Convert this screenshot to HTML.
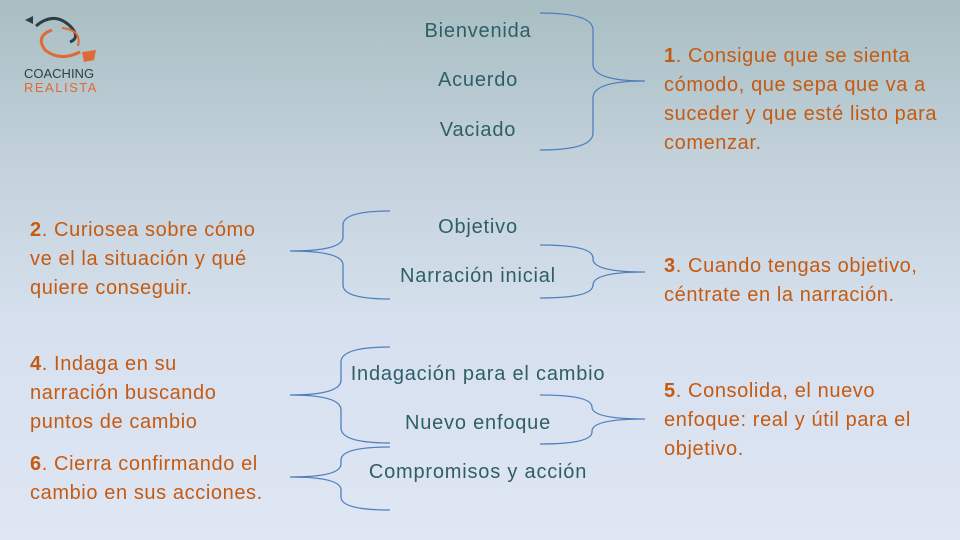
<!DOCTYPE html>
<html><head><meta charset="utf-8"><style>
body{margin:0}
#s{position:relative;width:960px;height:540px;overflow:hidden;background:linear-gradient(180deg,#a8bec2 0%,#c3d1db 30%,#d6e0ee 60%,#dfe6f4 100%);font-family:"Liberation Sans",sans-serif}
.c{position:absolute;color:#2f5f66;font-size:20px;letter-spacing:0.8px;text-align:center;white-space:nowrap;transform:translateX(-50%)}
.o{position:absolute;color:#c55a11;font-size:20px;letter-spacing:0.6px;line-height:29px;white-space:nowrap}
.o b{font-weight:bold}
svg{position:absolute;left:0;top:0}
</style></head><body><div id="s">
<svg width="960" height="540" fill="none" stroke="#4f7fbf" stroke-width="1.3">
<path d="M540,13 Q593,13 593,30 L593,64 Q593,81 645,81 Q593,81 593,98 L593,133 Q593,150 540,150"/>
<path d="M390,211 Q343,211 343,225 L343,237 Q343,251 290,251 Q343,251 343,265 L343,285 Q343,299 390,299"/>
<path d="M540,245 Q593,245 593,258 L593,259 Q593,272 645,272 Q593,272 593,285 L593,285 Q593,298 540,298"/>
<path d="M390,347 Q341,347 341,362 L341,380 Q341,395 290,395 Q341,395 341,410 L341,428 Q341,443 390,443"/>
<path d="M540,395 Q592,395 592,407 L592,407 Q592,419 645,419 Q592,419 592,431 L592,432 Q592,444 540,444"/>
<path d="M390,447 Q341,447 341,460 L341,464 Q341,477 290,477 Q341,477 341,490 L341,497 Q341,510 390,510"/>
</svg>
<svg width="130" height="100" style="left:0;top:0">
<path d="M36,26 Q55,10 72,28 Q80,38 70,42" stroke="#2d3f45" stroke-width="3" fill="none"/>
<path d="M25,20 L33,16 L33,24 Z" fill="#2d3f45"/>
<path d="M52,30 Q35,36 45,50 Q60,62 80,52" stroke="#e06a35" stroke-width="3" fill="none"/>
<path d="M62,28 Q82,30 78,46" stroke="#e06a35" stroke-width="2" fill="none"/>
<path d="M82,52 L96,50 L94,60 L84,62 Z" fill="#e06a35"/>
<text x="24" y="78" font-size="13" fill="#2d3f45" font-family="Liberation Sans">COACHING</text>
<text x="24" y="92" font-size="13" fill="#e06a35" letter-spacing="1.5" font-family="Liberation Sans">REALISTA</text>
</svg>
<div class="c" style="left:478px;top:20px">Bienvenida</div>
<div class="c" style="left:478px;top:69px">Acuerdo</div>
<div class="c" style="left:478px;top:119px">Vaciado</div>
<div class="c" style="left:478px;top:216px">Objetivo</div>
<div class="c" style="left:478px;top:265px">Narración inicial</div>
<div class="c" style="left:478px;top:363px">Indagación para el cambio</div>
<div class="c" style="left:478px;top:412px">Nuevo enfoque</div>
<div class="c" style="left:478px;top:461px">Compromisos y acción</div>
<div class="o" style="left:664px;top:42px"><b>1</b>. Consigue que se sienta<br>cómodo, que sepa que va a<br>suceder y que esté listo para<br>comenzar.</div>
<div class="o" style="left:30px;top:216px"><b>2</b>. Curiosea sobre cómo<br>ve el la situación y qué<br>quiere conseguir.</div>
<div class="o" style="left:664px;top:252px"><b>3</b>. Cuando tengas objetivo,<br>céntrate en la narración.</div>
<div class="o" style="left:30px;top:350px"><b>4</b>. Indaga en su<br>narración buscando<br>puntos de cambio</div>
<div class="o" style="left:664px;top:377px"><b>5</b>. Consolida, el nuevo<br>enfoque: real y útil para el<br>objetivo.</div>
<div class="o" style="left:30px;top:450px"><b>6</b>. Cierra confirmando el<br>cambio en sus acciones.</div>
</div></body></html>
